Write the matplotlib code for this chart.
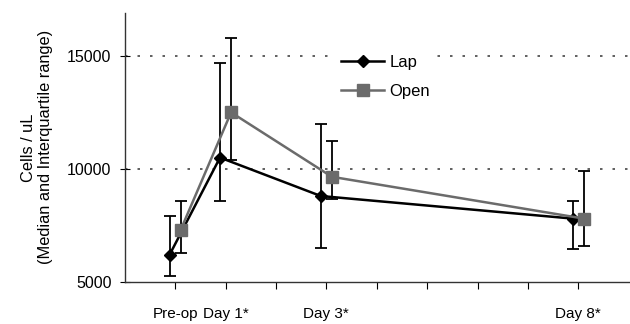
import numpy as np
import matplotlib.pyplot as plt

plt.rcParams['font.family'] = ['Liberation Sans', 'DejaVu Sans']

days = [0, 1, 3, 8]
tick_labels = ['Pre-op', 'Day 1*', 'Day 3*', 'Day 8*']

lap_med = [6200, 10500, 8800, 7800]
lap_lo = [5250, 8600, 6500, 6450]
lap_hi = [7900, 14700, 12000, 8600]

open_med = [7300, 12500, 9650, 7800]
open_lo = [6300, 10400, 8650, 6600]
open_hi = [8600, 15800, 11250, 9900]

fig = plt.figure(figsize=(6.3, 3.24), dpi=100)
ax = fig.add_axes([0.198, 0.13, 0.80, 0.83])

x = np.array(days, dtype=float)
gray = '#6b6b6b'

for xs, med, lo, hi, col, mk, ms, lab in [
        (x - 0.11, lap_med, lap_lo, lap_hi, 'black', 'D', 6, 'Lap'),
        (x + 0.11, open_med, open_lo, open_hi, gray, 's', 8.5, 'Open')]:
    med = np.array(med)
    yerr = [med - np.array(lo), np.array(hi) - med]
    ax.errorbar(xs, med, yerr=yerr, fmt='none', ecolor='black', elinewidth=1.3,
                capsize=4.5, capthick=1.3, zorder=2)
    ax.plot(xs, med, color=col, marker=mk, markersize=ms, lw=1.8,
            markeredgecolor=col, label=lab, zorder=3)

for yv in [10000, 15000]:
    ax.axhline(yv, color='#444444', lw=1.2, ls=(0, (1.5, 6)), zorder=1)

ax.set_xlim(-1, 9)
ax.set_ylim(5000, 16900)
ax.set_yticks([5000, 10000, 15000])
ax.set_xticks(range(0, 9))
ax.set_xticklabels(['' if i not in days else tick_labels[days.index(i)] for i in range(9)])
ax.tick_params(axis='x', direction='out', length=5, pad=13, labelsize=11)
ax.tick_params(axis='y', direction='inout', length=7, pad=6, labelsize=11.5)
ax.spines['top'].set_visible(False)
ax.spines['right'].set_visible(False)
for s in ['left', 'bottom']:
    ax.spines[s].set_color('#333333')
    ax.spines[s].set_linewidth(1.0)

ax.set_ylabel('Cells / uL\n(Median and Interquartile range)', fontsize=11.8, labelpad=10)

leg = ax.legend(loc='center left', bbox_to_anchor=(336 / 630, 1 - 77 / 324),
                bbox_transform=fig.transFigure, borderaxespad=0, frameon=True,
                fontsize=12, handlelength=2.6, borderpad=0.3, labelspacing=0.8,
                handletextpad=0.3)
leg.get_frame().set_edgecolor('none')
leg.get_frame().set_facecolor('white')
leg.get_frame().set_alpha(1)

fig.savefig('out.png', dpi=100)
